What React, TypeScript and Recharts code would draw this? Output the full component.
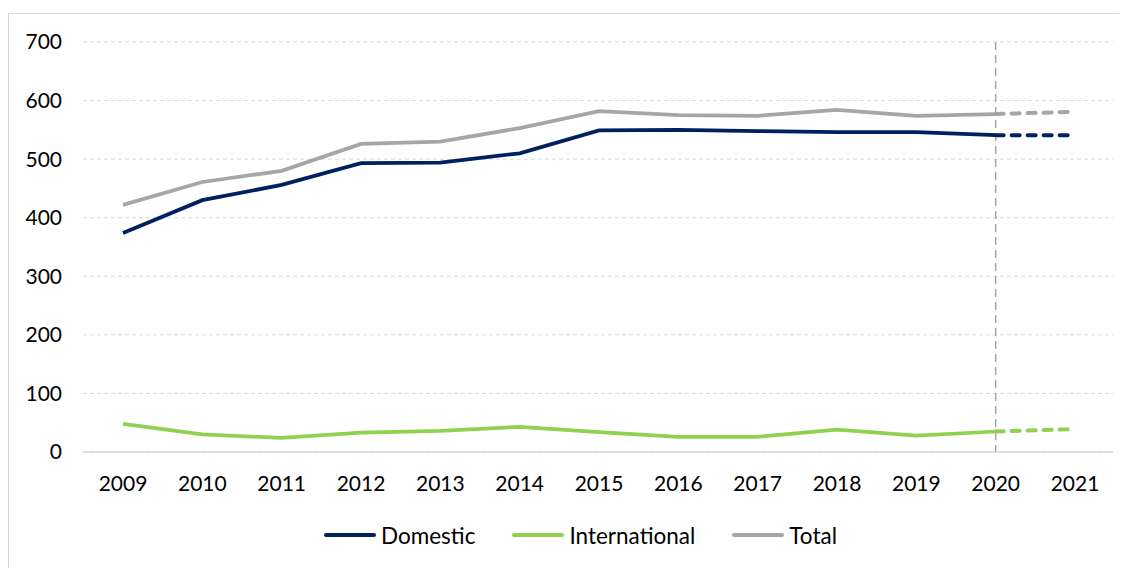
import { LineChart, Line, XAxis, YAxis, CartesianGrid, ReferenceLine, Legend } from "recharts"

const years = ["2009", "2010", "2011", "2012", "2013", "2014", "2015", "2016", "2017", "2018", "2019", "2020", "2021"]
const domestic = [374, 430, 456, 493, 494, 510, 549, 550, 548, 546, 546, 541, null]
const international = [48, 30, 24, 33, 36, 43, 34, 26, 26, 38, 28, 35, null]
const total = [422, 461, 480, 526, 530, 553, 582, 575, 574, 584, 574, 577, null]
// 2020 -> 2021 projection, drawn dashed
const domesticProj = [null, null, null, null, null, null, null, null, null, null, null, 541, 541]
const internationalProj = [null, null, null, null, null, null, null, null, null, null, null, 35, 39]
const totalProj = [null, null, null, null, null, null, null, null, null, null, null, 577, 581]
const yTicks = [0, 100, 200, 300, 400, 500, 600, 700]

const FONT = "Lato, 'Open Sans', sans-serif"
const colors = { domestic: "#002060", international: "#92D050", total: "#A6A6A6" }

const data = years.map((year, i) => ({
  year,
  domestic: domestic[i],
  international: international[i],
  total: total[i],
  domesticProj: domesticProj[i],
  internationalProj: internationalProj[i],
  totalProj: totalProj[i],
}))

const legendItems = [
  { name: "Domestic", color: colors.domestic },
  { name: "International", color: colors.international },
  { name: "Total", color: colors.total },
]

function LegendContent() {
  return (
    <div style={{ display: "flex", alignItems: "center", height: 30, fontFamily: FONT, fontSize: 22.5, color: "#000" }}>
      {legendItems.map((item) => (
        <div key={item.name} style={{ display: "flex", alignItems: "center", marginRight: 37 }}>
          <span style={{ display: "inline-block", width: 52, height: 4, borderRadius: 2, background: item.color, marginRight: 5 }} />
          <span>{item.name}</span>
        </div>
      ))}
    </div>
  )
}

export default function App() {
  return (
    <div style={{ position: "relative", width: 1119, height: 560, fontFamily: FONT }}>
      <div
        style={{
          position: "absolute",
          top: 5,
          left: 0,
          width: 1130,
          height: 570,
          border: "1px solid #d9d9d9",
          boxSizing: "border-box",
        }}
      />
      <div style={{ position: "absolute", top: 0, left: 0 }}>
        <LineChart width={1119} height={555} data={data} margin={{ top: 34, right: 14, left: 0, bottom: 51 }}>
          <CartesianGrid vertical={false} stroke="#d9d9d9" strokeDasharray="4 3" />
          <XAxis
            dataKey="year"
            padding={{ left: 40, right: 38 }}
            tickLine={false}
            axisLine={{ stroke: "#d9d9d9", strokeWidth: 1.5 }}
            tickSize={0}
            tickMargin={24}
            height={30}
            interval={0}
            tick={{ fontFamily: FONT, fontSize: 21, fill: "#000" }}
          />
          <YAxis
            domain={[0, 700]}
            ticks={yTicks}
            width={75}
            axisLine={false}
            tickLine={false}
            tickSize={0}
            tickMargin={21}
            tick={{ fontFamily: FONT, fontSize: 21, fill: "#000" }}
          />
          <ReferenceLine
            segment={[{ x: "2020", y: 700 }, { x: "2020", y: -10 }]}
            ifOverflow="visible"
            stroke="#A6A6A6"
            strokeWidth={1.5}
            strokeDasharray="8 5"
          />
          <Line dataKey="domestic" stroke={colors.domestic} strokeWidth={3.75} dot={false} isAnimationActive={false} />
          <Line dataKey="international" stroke={colors.international} strokeWidth={3.75} dot={false} isAnimationActive={false} />
          <Line dataKey="total" stroke={colors.total} strokeWidth={3.75} dot={false} isAnimationActive={false} />
          <Line dataKey="domesticProj" stroke={colors.domestic} strokeWidth={4} strokeDasharray="8 8" strokeLinecap="round" dot={false} isAnimationActive={false} />
          <Line dataKey="internationalProj" stroke={colors.international} strokeWidth={4} strokeDasharray="8 8" strokeLinecap="round" dot={false} isAnimationActive={false} />
          <Line dataKey="totalProj" stroke={colors.total} strokeWidth={4} strokeDasharray="8 8" strokeLinecap="round" dot={false} isAnimationActive={false} />
          <Legend
            verticalAlign="bottom"
            content={<LegendContent />}
            wrapperStyle={{ top: 512, bottom: "auto", left: 316, width: 700, height: 30 }}
          />
        </LineChart>
      </div>
    </div>
  )
}
